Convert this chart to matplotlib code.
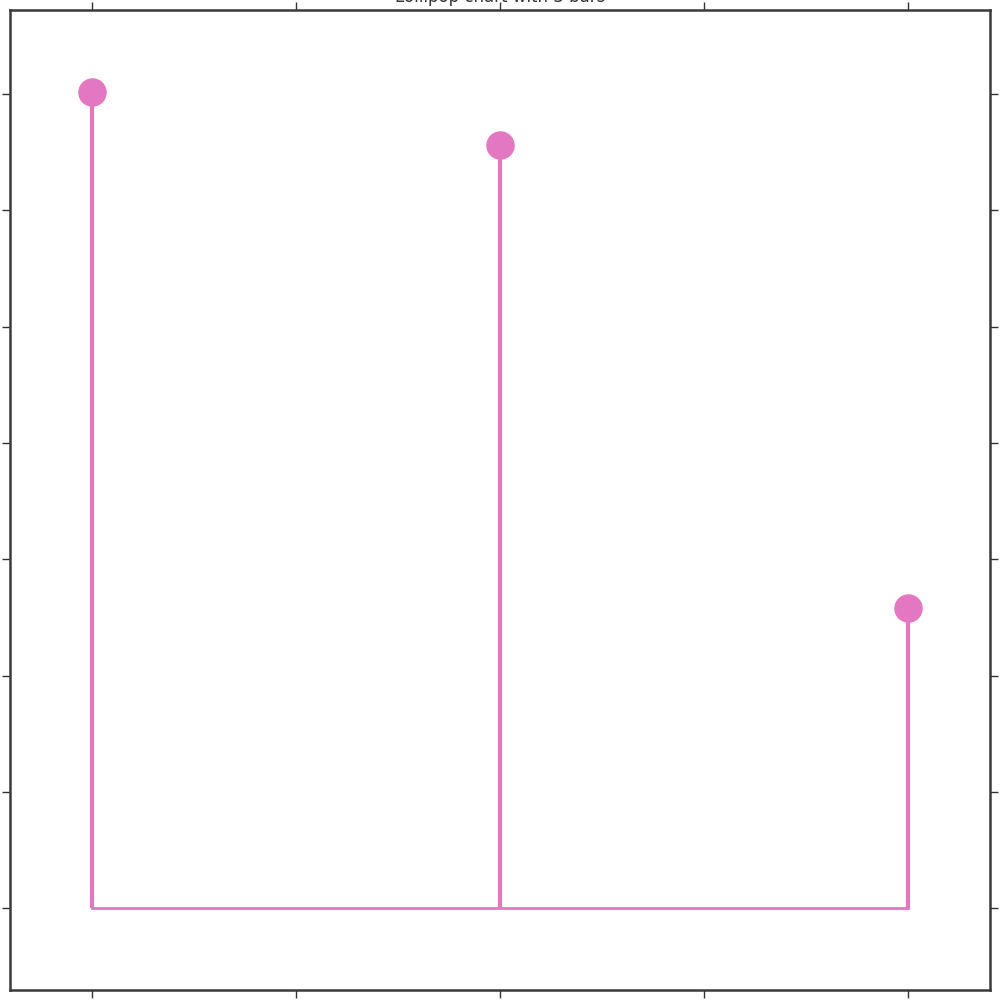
import matplotlib
matplotlib.use("Agg")
import matplotlib.pyplot as plt

# lollipop values
categories = [0, 1, 2]
values = [7.02, 6.56, 2.58]
title = "Lollipop chart with 3 bars"

pink = "#e377c2"


def main() -> None:
    fig, ax = plt.subplots(figsize=(10, 10), dpi=100)
    fig.subplots_adjust(left=0.01, right=0.99, bottom=0.01, top=0.99)

    markerline, stemlines, baseline = ax.stem(categories, values)
    plt.setp(markerline, color=pink, markersize=19.5)
    plt.setp(stemlines, color=pink, linewidth=3)
    plt.setp(baseline, color=pink, linewidth=2)

    ax.margins(0.1)
    ax.set_xticks([0, 0.5, 1, 1.5, 2])
    ax.set_yticks(range(0, 8))
    ax.tick_params(which="both", direction="out", length=6, width=1, color="#333333",
                   top=True, right=True, labelbottom=False, labelleft=False)
    for sp in ax.spines.values():
        sp.set_color("#3a3a3a")
        sp.set_linewidth(1.8)

    ax.set_title(title, fontsize=12, color="#333333")
    fig.savefig("out.png", dpi=100)


if __name__ == '__main__':
    main()
